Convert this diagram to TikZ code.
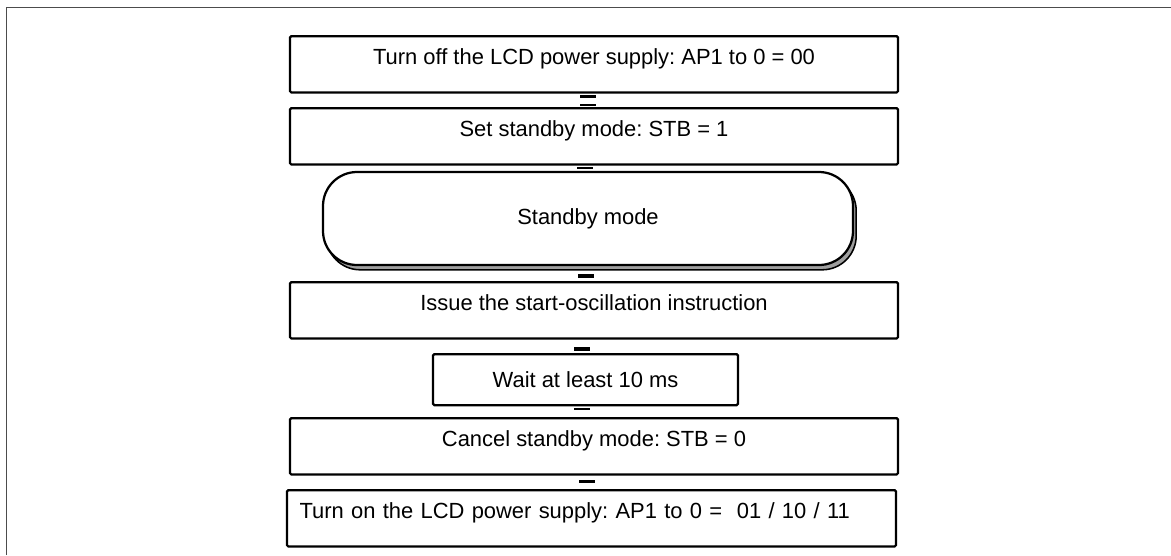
\documentclass[tikz,border=0pt]{standalone}
\usepackage{fontspec}
\setmainfont{Liberation Sans}
\frenchspacing
\usepackage{tikz}
\usetikzlibrary{positioning, shadows}

\begin{document}
\begin{tikzpicture}[
    every node/.style={font=\fontsize{15.6pt}{18pt}\selectfont},
    stepbox/.style={draw,line width=1.6pt,rounded corners=1pt,minimum width=15.2cm,
      inner ysep=9.2pt,text height=11.2pt,text depth=10.5pt,anchor=north},
    modebox/.style={draw,line width=1.6pt,rounded corners=0.85cm,minimum width=13.25cm,
      minimum height=2.325cm,fill=white,
      copy shadow={shadow xshift=0.08cm,shadow yshift=-0.12cm,fill=gray!75,draw=black,line width=1.1pt}},
    bar/.style={fill=black,inner sep=0pt,minimum width=0.4cm,minimum height=#1,xshift=-0.15cm},
    bar/.default=0.07cm
  ]
  \useasboundingbox (0,0) rectangle (29.275,-13.875);
  % frame
  \draw[gray!60!black,line width=0.6pt] (0.15,-13.875) -- (0.15,-0.175) -- (29.275,-0.175);

  \node[stepbox] (off) at (14.85,-0.875) {Turn off the LCD power supply: AP1 to 0 = 00};
  \node[stepbox] (stb1) at (14.85,-2.675) {Set standby mode: STB = 1};
  \node[modebox] (mode) at (14.7,-5.4625) {Standby mode};
  \node[stepbox] (osc) at (14.85,-7.025) {Issue the start-oscillation instruction};
  \node[stepbox,minimum width=7.625cm,text depth=0pt,minimum height=1.275cm]
    (wait) at (14.6375,-8.825) {Wait at least 10 ms};
  \node[stepbox] (stb0) at (14.85,-10.425) {Cancel standby mode: STB = 0};
  \node[stepbox,minimum width=15.225cm,text width=14.6cm,align=left]
    (on) at (14.7875,-12.225) {Turn on the LCD power supply: AP1 to 0 = \ 01 / 10 / 11};

  % connectors
  \foreach \a/\b/\p/\h in {off/stb1/0.2/0.07cm,stb1/mode/0.45/0.07cm,mode/osc/0.68/0.1cm,
      osc/wait/0.67/0.1cm,wait/stb0/0.25/0.07cm,stb0/on/0.45/0.07cm}{
    \path (\a.south) -- node[bar=\h,pos=\p]{} (\b.north);
  }
  \path (off.south) -- node[bar=0.05cm,pos=0.85]{} (stb1.north);
\end{tikzpicture}
\end{document}
